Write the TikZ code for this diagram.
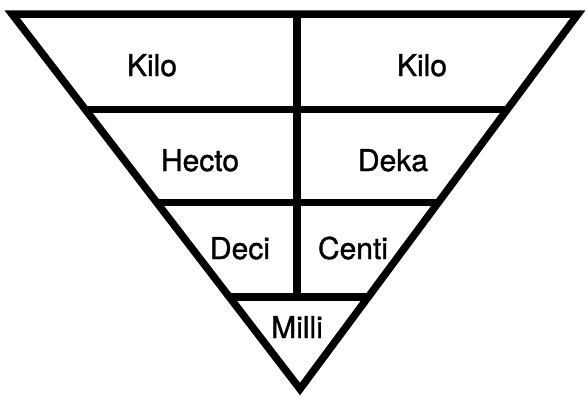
\documentclass[tikz,border=0pt]{standalone}
\usepackage{fontspec}
\setmainfont{TeX Gyre Heros}
\newfontfamily\lblfont[FakeBold=1.2]{TeX Gyre Heros}
\usetikzlibrary{calc}
\begin{document}
\begin{tikzpicture}[x=1pt,y=-1pt,
  lbl/.style={font=\lblfont\fontsize{30}{33}\selectfont, inner sep=0pt, anchor=base},
  frame/.style={line width=7.5pt, line join=miter}]
\useasboundingbox (0,0) rectangle (586,402);
\coordinate (TL) at (12,14);
\coordinate (TR) at (578,14);
\coordinate (A) at (300,389);
\coordinate (L1) at ($(TL)!0.255!(A)$);
\coordinate (R1) at ($(TR)!0.255!(A)$);
\coordinate (L2) at ($(TL)!0.503!(A)$);
\coordinate (R2) at ($(TR)!0.503!(A)$);
\coordinate (L3) at ($(TL)!0.755!(A)$);
\coordinate (R3) at ($(TR)!0.755!(A)$);
\coordinate (VT) at (297,14);
\coordinate (VB) at (297,298);
\draw[frame] (TL) -- (TR) -- (A) -- cycle;
\draw[frame] (L1) -- (R1);
\draw[frame] (L2) -- (R2);
\draw[frame] (L3) -- (R3);
\draw[frame] (VT) -- (VB);
\node[lbl] (kiloL) at (152,76) {Kilo};
\node[lbl] (kiloR) at (422,76) {Kilo};
\node[lbl] (hecto) at (200,171) {Hecto};
\node[lbl] (deka) at (393,171) {Deka};
\node[lbl] (deci) at (240,259) {Deci};
\node[lbl] (centi) at (353,259) {Centi};
\node[lbl] (milli) at (297,338) {Milli};
\end{tikzpicture}
\end{document}
